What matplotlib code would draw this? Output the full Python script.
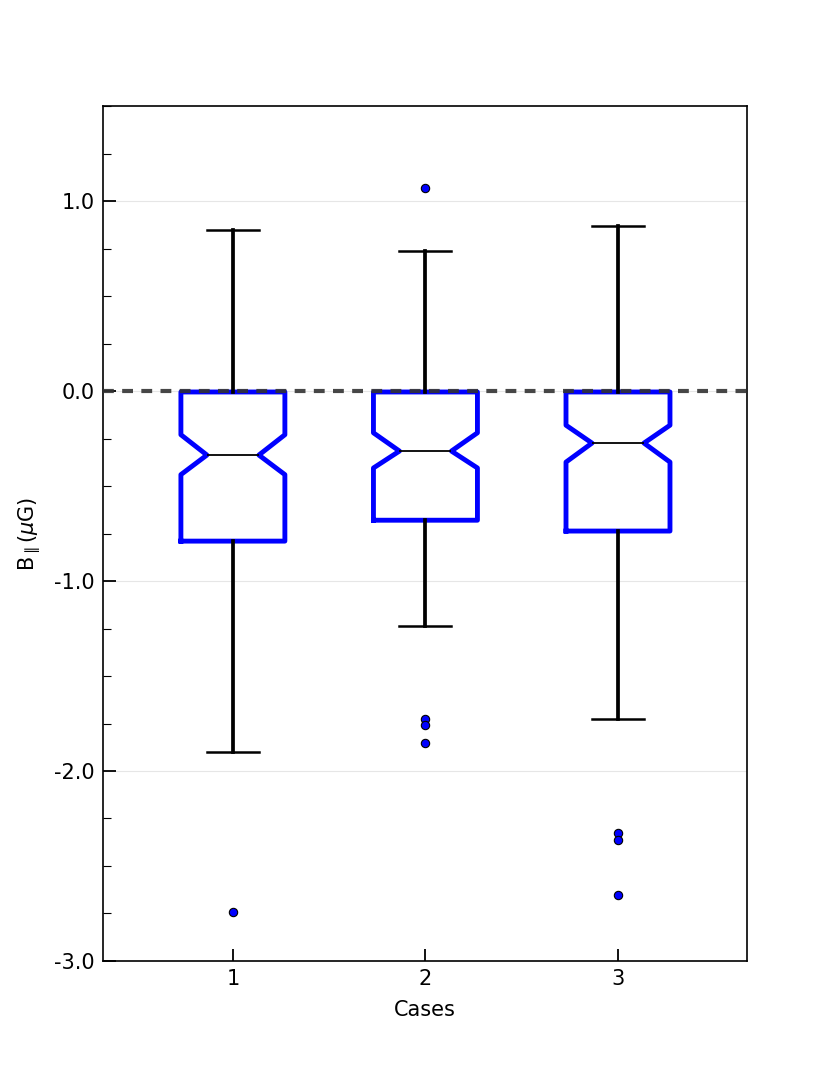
import matplotlib
matplotlib.use("Agg")
import matplotlib.pyplot as plt
from matplotlib.ticker import MultipleLocator

# Box statistics (B_parallel in microgauss)
cases = [1, 2, 3]
q1 = [-0.79, -0.68, -0.737]
medians = [-0.337, -0.316, -0.274]
q3 = [-0.005, -0.005, -0.005]
notch_lo = [-0.44, -0.405, -0.374]
notch_hi = [-0.23, -0.22, -0.18]
whis_lo = [-1.90, -1.237, -1.726]
whis_hi = [0.847, 0.737, 0.868]
outliers = [
    [-2.74],
    [1.068, -1.726, -1.758, -1.853],
    [-2.326, -2.363, -2.653],
]

stats = []
for i in range(len(cases)):
    stats.append({
        "med": medians[i], "q1": q1[i], "q3": q3[i],
        "cilo": notch_lo[i], "cihi": notch_hi[i],
        "whislo": whis_lo[i], "whishi": whis_hi[i],
        "fliers": outliers[i], "label": str(cases[i]),
    })

plt.rcParams["font.family"] = "DejaVu Sans"
fig = plt.figure(figsize=(8.3, 10.68), dpi=100)
ax = fig.add_axes([0.124, 0.1002, 0.776, 0.8005])

ax.bxp(stats, positions=cases, widths=0.54, shownotches=True,
       boxprops=dict(color="blue", linewidth=3.5),
       whiskerprops=dict(color="black", linewidth=2.7, linestyle="-"),
       capprops=dict(color="black", linewidth=1.8),
       medianprops=dict(color="black", linewidth=1.3),
       flierprops=dict(marker="o", markerfacecolor="blue",
                       markeredgecolor="black", markersize=6,
                       markeredgewidth=0.8))

ax.axhline(0, color="#333333", linestyle="--", linewidth=3.0,
           dashes=(2.6, 2.0), alpha=0.9, zorder=5)

ax.set_xlim(0.325, 3.67)
ax.set_ylim(-3.0, 1.5)
ax.yaxis.set_major_locator(MultipleLocator(1.0))
ax.yaxis.set_minor_locator(MultipleLocator(0.25))
ax.set_yticks([-3, -2, -1, 0, 1])
ax.set_yticklabels(["-3.0", "-2.0", "-1.0", "0.0", "1.0"])
ax.grid(True, axis="y", color="#e6e6e6", linewidth=0.8)
ax.set_axisbelow(True)

ax.tick_params(axis="both", which="major", direction="in", length=9,
               width=1.3, labelsize=15, top=False, right=False, pad=6)
ax.tick_params(axis="y", which="minor", direction="in", length=6,
               width=0.8, right=False)
for s in ax.spines.values():
    s.set_linewidth(1.2)

ax.set_xlabel("Cases", fontsize=15, labelpad=8)
ax.set_ylabel(r"B$_\parallel$($\mu$G)", fontsize=15, labelpad=8)

fig.savefig("out.png", dpi=100)
